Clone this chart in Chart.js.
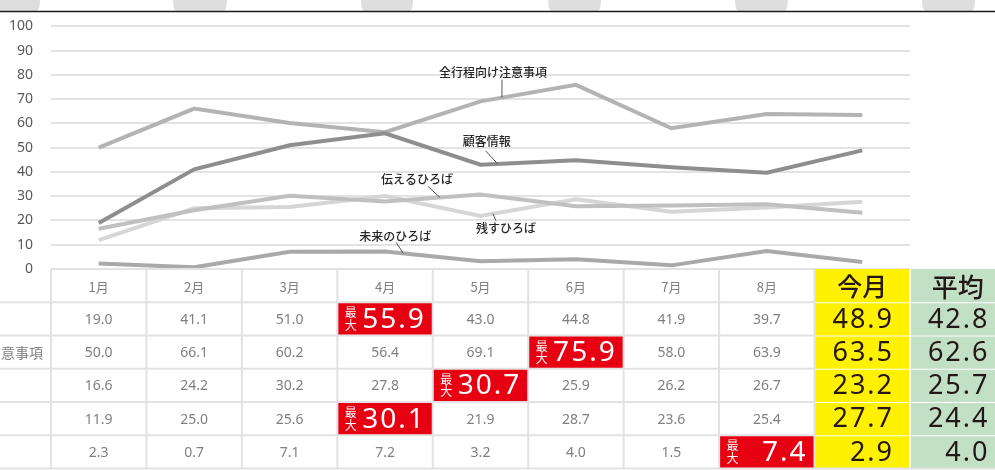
<!DOCTYPE html>
<html><head><meta charset="utf-8">
<script src="https://cdn.jsdelivr.net/npm/chart.js@4/dist/chart.umd.min.js"></script>
<style>html,body{margin:0;padding:0;background:#fff;overflow:hidden}</style>
</head><body>
<canvas id="c" width="995" height="470"></canvas>
<script>
const months = ['1月','2月','3月','4月','5月','6月','7月','8月','今月'];
const seriesNames = ['顧客情報','全行程向け注意事項','伝えるひろば','残すひろば','未来のひろば'];
const customerInfo   = [19.0,41.1,51.0,55.9,43.0,44.8,41.9,39.7,48.9];
const allProcessNotes= [50.0,66.1,60.2,56.4,69.1,75.9,58.0,63.9,63.5];
const tellPlaza      = [16.6,24.2,30.2,27.8,30.7,25.9,26.2,26.7,23.2];
const keepPlaza      = [11.9,25.0,25.6,30.1,21.9,28.7,23.6,25.4,27.7];
const futurePlaza    = [2.3,0.7,7.1,7.2,3.2,4.0,1.5,7.4,2.9];
const averages       = [42.8,62.6,25.7,24.4,4.0];
const yTickValues    = [0,10,20,30,40,50,60,70,80,90,100];
const avgLabel = '平均';
const maxLabel = '最大';
const rowLabelTail = '意事項';

const seriesValues = [customerInfo, allProcessNotes, tellPlaza, keepPlaza, futurePlaza];
const seriesColors = ['#8e8e8e','#b3b3b3','#c0c0c0','#d6d6d6','#a9a9a9'];

const JP = "'Noto Sans CJK JP','Noto Sans',sans-serif";
const NUM = "'Noto Sans','Open Sans',sans-serif";

// label placement: series index, segment start index, fraction, leader end offset, text offset
const labelPlacement = [
  {s:1, i:4, t:0.225, lx:0,   ly:-18, tx:-9,  ty:-25},
  {s:0, i:4, t:0.18,  lx:-12, ly:-13, tx:-11, ty:-22},
  {s:2, i:3, t:0.576, lx:-12, ly:-11, tx:-23, ty:-18},
  {s:3, i:4, t:0.13,  lx:3,   ly:7,   tx:13,  ty:15},
  {s:4, i:3, t:0.19,  lx:-7,  ly:-11, tx:-8,  ty:-17}
];

const decorPlugin = {
  id:'decor',
  beforeDraw(chart){
    const ctx = chart.ctx;
    ctx.save();
    ctx.fillStyle = '#fff';
    ctx.fillRect(0,0,chart.width,chart.height);
    ctx.fillStyle = '#dedede';
    const shapes = [[-14,40],[173,227],[361,413],[548,601],[735,788],[922,975]];
    shapes.forEach(([a,b])=>{
      ctx.beginPath();
      ctx.moveTo(a,0); ctx.lineTo(b,0);
      ctx.quadraticCurveTo(b,9,b-3,11);
      ctx.lineTo(a+3,11);
      ctx.quadraticCurveTo(a,9,a,0);
      ctx.closePath(); ctx.fill();
    });
    ctx.strokeStyle = '#1a1a1a'; ctx.lineWidth = 1.3;
    ctx.beginPath(); ctx.moveTo(0,11.5); ctx.lineTo(chart.width,11.5); ctx.stroke();
    ctx.restore();
  },
  afterDatasetsDraw(chart){
    const ctx = chart.ctx, xs = chart.scales.x, ys = chart.scales.y;
    ctx.save();
    ctx.font = '500 12px ' + JP;
    ctx.fillStyle = '#262626';
    ctx.textAlign = 'center'; ctx.textBaseline = 'middle';
    ctx.strokeStyle = '#555'; ctx.lineWidth = 1;
    labelPlacement.forEach(p=>{
      const vals = seriesValues[p.s];
      const x0 = xs.getPixelForValue(p.i), x1 = xs.getPixelForValue(p.i+1);
      const y0 = ys.getPixelForValue(vals[p.i]), y1 = ys.getPixelForValue(vals[p.i+1]);
      const ax = x0 + (x1-x0)*p.t, ay = y0 + (y1-y0)*p.t;
      ctx.beginPath(); ctx.moveTo(ax, ay); ctx.lineTo(ax+p.lx, ay+p.ly); ctx.stroke();
      ctx.fillText(seriesNames[p.s], ax+p.tx, ay+p.ty);
    });
    ctx.restore();
  },
  afterDraw(chart){
    const ctx = chart.ctx, xs = chart.scales.x, area = chart.chartArea;
    const band = xs.getPixelForValue(1) - xs.getPixelForValue(0);
    const centers = months.map((m,i)=>xs.getPixelForValue(i));
    centers.push(centers[centers.length-1] + band);
    const top = area.bottom;
    const nRows = 6;
    const rowH = (chart.height - 1.5 - top) / nRows;
    const rowY = r => top + r*rowH;
    const colL = c => centers[c] - band/2;
    const colR = c => centers[c] + band/2;
    const todayCol = months.length-1, avgCol = months.length;
    ctx.save();
    for (let r=0;r<nRows;r++){
      ctx.fillStyle = '#fff100';
      ctx.fillRect(colL(todayCol), rowY(r)+ (r?1:0), band-1, rowH-(r?1:0));
      ctx.fillStyle = '#c2e0c6';
      ctx.fillRect(colL(avgCol)+1, rowY(r)+(r?1:0), band, rowH-(r?1:0));
    }
    ctx.strokeStyle = '#e2e2e2'; ctx.lineWidth = 2;
    const grayRight = colL(todayCol);
    ctx.beginPath();
    ctx.moveTo(area.left, top); ctx.lineTo(grayRight, top);
    for (let r=1;r<=nRows;r++){ ctx.moveTo(0, rowY(r)); ctx.lineTo(grayRight, rowY(r)); }
    for (let c=0;c<=todayCol;c++){ ctx.moveTo(colL(c), top); ctx.lineTo(colL(c), rowY(nRows)); }
    ctx.stroke();
    ctx.beginPath();
    ctx.moveTo(colL(todayCol), rowY(nRows)); ctx.lineTo(chart.width, rowY(nRows));
    ctx.stroke();
    ctx.textAlign='center'; ctx.textBaseline='middle';
    ctx.fillStyle='#7f7f7f'; ctx.font = '13px ' + JP;
    for (let c=0;c<todayCol;c++) ctx.fillText(months[c], centers[c], rowY(0)+rowH/2+1);
    ctx.fillStyle='#231815'; ctx.font = '500 25px ' + JP;
    ctx.fillText(months[todayCol], centers[todayCol], rowY(0)+rowH/2+1);
    ctx.font = '500 26px ' + JP;
    ctx.fillText(avgLabel, centers[avgCol], rowY(0)+rowH/2+1);
    ctx.textAlign='left'; ctx.fillStyle='#7f7f7f'; ctx.font='14px ' + JP;
    ctx.fillText(rowLabelTail, 1, rowY(2)+rowH/2+1);
    seriesValues.forEach((vals, s)=>{
      const r = s+1;
      const cy = rowY(r)+rowH/2;
      const monthVals = vals.slice(0, todayCol);
      const maxIdx = monthVals.indexOf(Math.max(...monthVals));
      for (let c=0;c<todayCol;c++){
        if (c===maxIdx){
          ctx.fillStyle='#e60012';
          ctx.fillRect(colL(c)+1, rowY(r)+1, band-2, rowH-2);
          ctx.fillStyle='#fff';
          ctx.textAlign='center'; ctx.font='12px ' + JP;
          ctx.fillText(maxLabel[0], colL(c)+13.5, cy-6);
          ctx.fillText(maxLabel[1], colL(c)+13.5, cy+6.5);
          ctx.textAlign='right'; ctx.font='28px ' + NUM;
          ctx.letterSpacing='2px';
          ctx.fillText(vals[c].toFixed(1), colR(c)-7, cy+1);
          ctx.letterSpacing='0px';
        } else {
          ctx.fillStyle='#7f7f7f'; ctx.textAlign='center'; ctx.font='14px ' + NUM;
          ctx.fillText(vals[c].toFixed(1), centers[c], cy+1);
        }
      }
      ctx.fillStyle='#231815'; ctx.textAlign='right'; ctx.font='27px ' + NUM;
      ctx.letterSpacing='2px';
      ctx.fillText(vals[todayCol].toFixed(1), colR(todayCol)-16, cy+1);
      ctx.fillText(averages[s].toFixed(1), colR(avgCol)-16, cy+1);
      ctx.letterSpacing='0px';
    });
    ctx.restore();
  }
};

new Chart(document.getElementById('c'), {
  type:'line',
  data:{
    labels: months,
    datasets: seriesNames.map((n,i)=>({
      label:n, data:seriesValues[i], borderColor:seriesColors[i], backgroundColor:seriesColors[i],
      borderWidth:4, pointRadius:0, tension:0, fill:false
    }))
  },
  options:{
    responsive:false, animation:false, devicePixelRatio:1,
    layout:{padding:{top:22, bottom:201, right:85, left:0}},
    plugins:{legend:{display:false}, tooltip:{enabled:false}},
    scales:{
      x:{display:false, offset:true},
      y:{min:0, max:100,
        afterBuildTicks(s){ s.ticks = yTickValues.map(v=>({value:v})); },
        afterFit(s){ s.width = 51; },
        ticks:{color:'#595959', font:{size:14, family:NUM}, padding:18},
        grid:{color:'#e3e3e3', lineWidth:2, drawTicks:false},
        border:{display:false}
      }
    }
  },
  plugins:[decorPlugin]
});
</script>
</body></html>
